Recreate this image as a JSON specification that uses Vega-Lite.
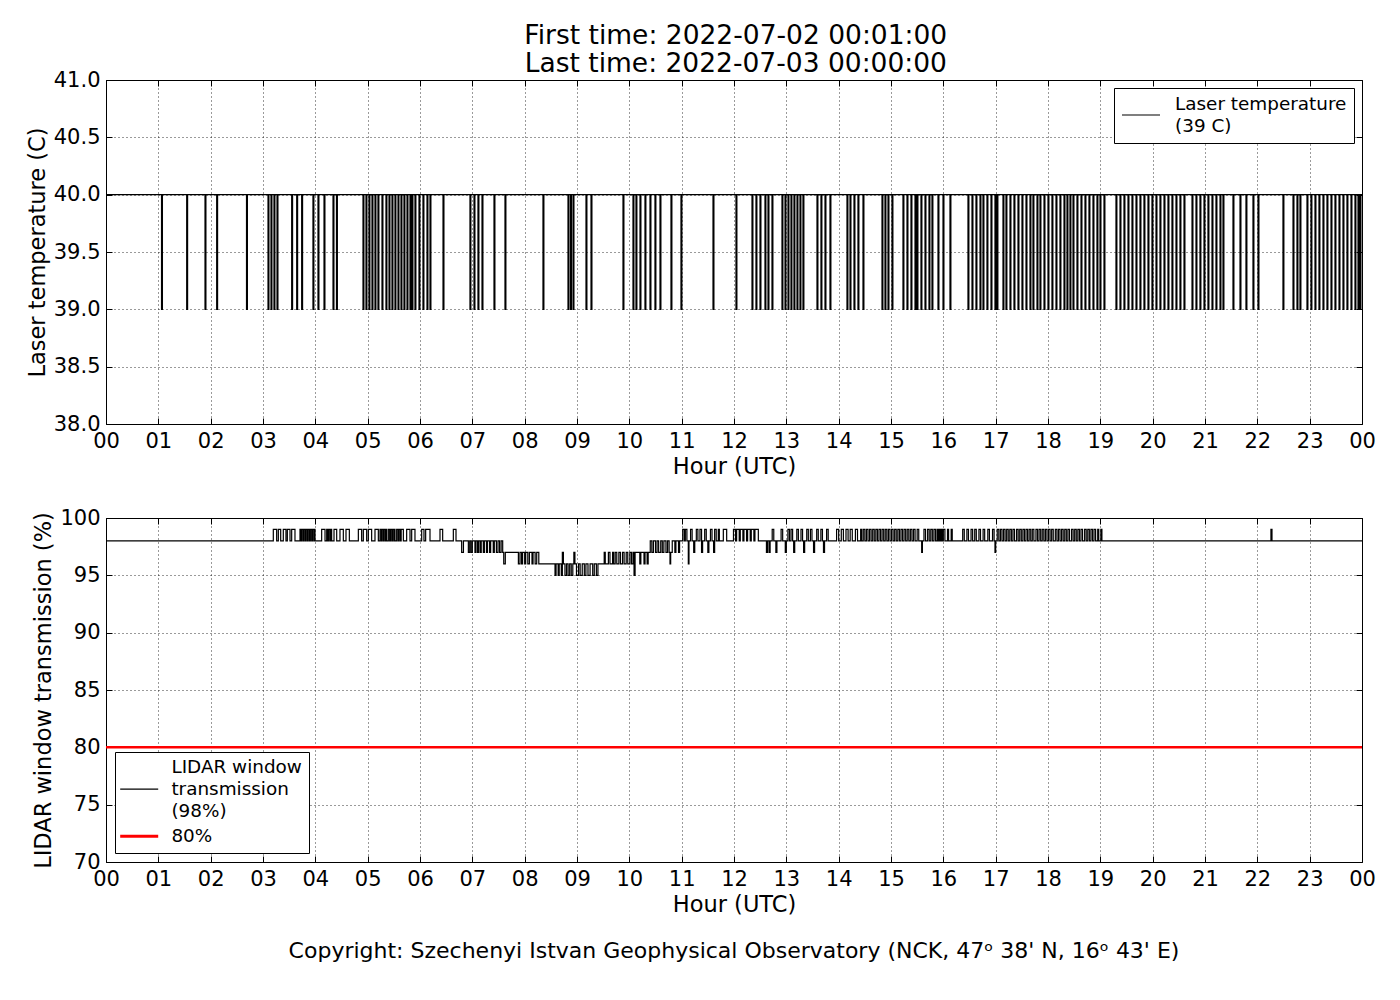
{
  "$schema": "https://vega.github.io/schema/vega-lite/v6.json",
  "padding": {"left": 25, "top": 23, "right": 30, "bottom": 10},
  "title": {
    "text": ["First time: 2022-07-02 00:01:00", "Last time: 2022-07-03 00:00:00"],
    "fontSize": 26.5,
    "lineHeight": 28,
    "fontWeight": "normal",
    "color": "black",
    "anchor": "middle",
    "dx": 35,
    "offset": -9
  },
  "config": {
    "font": "DejaVu Sans",
    "view": {"stroke": "black", "strokeWidth": 1},
    "axis": {
      "domain": false,
      "grid": true,
      "gridColor": "black",
      "gridDash": [1, 3],
      "gridWidth": 0.8,
      "gridOpacity": 1,
      "tickColor": "black",
      "tickSize": -6,
      "labelPadding": 12,
      "labelFontSize": 21,
      "labelColor": "black",
      "titleFontSize": 22.5,
      "titleFontWeight": "normal",
      "titleColor": "black",
      "titlePadding": 4
    },
    "legend": {
      "title": null,
      "symbolType": "stroke",
      "symbolSize": 1444,
      "symbolStrokeWidth": 1.2,
      "labelFontSize": 18.4,
      "labelColor": "black",
      "labelLimit": 400,
      "labelOffset": 14,
      "strokeColor": "black",
      "fillColor": "white",
      "padding": 7,
      "cornerRadius": 0,
      "rowPadding": 0
    }
  },
  "resolve": {"scale": {"color": "independent"}, "legend": {"color": "independent"}},
  "spacing": 28,
  "vconcat": [
    {
      "width": 1256,
      "height": 344,
      "data": {"name": "laser"},
      "resolve": {"axis": {"x": "independent", "y": "independent"}},
      "layer": [
        {
          "mark": {"type": "line", "interpolate": "step-after", "strokeWidth": 1.2, "clip": true},
          "encoding": {
            "x": {
              "field": "h", "type": "quantitative",
              "scale": {"domain": [0, 24], "nice": false},
              "axis": {
                "title": "Hour (UTC)",
                "values": [0,1,2,3,4,5,6,7,8,9,10,11,12,13,14,15,16,17,18,19,20,21,22,23,24],
                "labelFlush": false,
                "labelExpr": "datum.value == 24 ? '00' : (datum.value < 10 ? '0' + datum.value : '' + datum.value)"
              }
            },
            "y": {
              "field": "v", "type": "quantitative",
              "scale": {"domain": [38, 41], "nice": false, "zero": false},
              "axis": {"title": "Laser temperature (C)", "values": [38, 38.5, 39, 39.5, 40, 40.5, 41], "format": ".1f"}
            },
            "color": {
              "datum": "Laser temperature|(39 C)",
              "scale": {"range": ["black"]},
              "legend": {
                "orient": "top-right",
                "offset": 8,
                "labelExpr": "split(datum.label, '|')",
                "encode": {"labels": {"update": {"dy": {"value": -11}, "lineHeight": {"value": 22}}}}
              }
            }
          }
        },
        {
          "mark": {"type": "line", "opacity": 0},
          "encoding": {
            "x": {
              "field": "h", "type": "quantitative",
              "scale": {"domain": [0, 24], "nice": false},
              "axis": {"orient": "top", "labels": false, "title": null, "grid": false,
                       "values": [0,1,2,3,4,5,6,7,8,9,10,11,12,13,14,15,16,17,18,19,20,21,22,23,24]}
            },
            "y": {
              "field": "v", "type": "quantitative",
              "scale": {"domain": [38, 41], "nice": false, "zero": false},
              "axis": {"orient": "right", "labels": false, "title": null, "grid": false,
                       "values": [38, 38.5, 39, 39.5, 40, 40.5, 41]}
            }
          }
        }
      ]
    },
    {
      "width": 1256,
      "height": 344,
      "title": {
        "text": "Copyright: Szechenyi Istvan Geophysical Observatory (NCK, 47ᵒ  38' N, 16ᵒ  43' E)",
        "orient": "bottom",
        "anchor": "middle",
        "fontSize": 22,
        "fontWeight": "normal",
        "color": "black",
        "offset": 25
      },
      "resolve": {"axis": {"x": "independent", "y": "independent"}},
      "layer": [
        {
          "data": {"name": "lidar"},
          "mark": {"type": "line", "interpolate": "step-after", "strokeWidth": 1.2, "clip": true},
          "encoding": {
            "x": {
              "field": "h", "type": "quantitative",
              "scale": {"domain": [0, 24], "nice": false},
              "axis": {
                "title": "Hour (UTC)",
                "values": [0,1,2,3,4,5,6,7,8,9,10,11,12,13,14,15,16,17,18,19,20,21,22,23,24],
                "labelFlush": false,
                "labelExpr": "datum.value == 24 ? '00' : (datum.value < 10 ? '0' + datum.value : '' + datum.value)"
              }
            },
            "y": {
              "field": "v", "type": "quantitative",
              "scale": {"domain": [70, 100], "nice": false, "zero": false},
              "axis": {"title": "LIDAR window transmission (%)", "values": [70, 75, 80, 85, 90, 95, 100]}
            },
            "color": {
              "datum": "LIDAR window|transmission|(98%)",
              "scale": {"domain": ["LIDAR window|transmission|(98%)", "80%"], "range": ["black", "red"]},
              "legend": {
                "orient": "bottom-left",
                "offset": 9,
                "title": " ",
                "titleFontSize": 14,
                "titlePadding": 7,
                "symbolOffset": 8,
                "labelOffset": 23,
                "rowPadding": 6,
                "labelExpr": "split(datum.label, '|')",
                "encode": {
                  "symbols": {"update": {"strokeWidth": {"signal": "datum.value === '80%' ? 3 : 1.2"}}},
                  "labels": {"update": {"dy": {"signal": "datum.value === '80%' ? 0 : -22"}, "lineHeight": {"value": 22}}}
                }
              }
            }
          }
        },
        {
          "data": {"name": "limit"},
          "mark": {"type": "line", "strokeWidth": 2.5, "clip": true},
          "encoding": {
            "x": {"field": "h", "type": "quantitative", "axis": null},
            "y": {"field": "v", "type": "quantitative", "axis": null},
            "color": {"datum": "80%"}
          }
        },
        {
          "data": {"name": "lidar"},
          "mark": {"type": "line", "opacity": 0},
          "encoding": {
            "x": {
              "field": "h", "type": "quantitative",
              "axis": {"orient": "top", "labels": false, "title": null, "grid": false,
                       "values": [0,1,2,3,4,5,6,7,8,9,10,11,12,13,14,15,16,17,18,19,20,21,22,23,24]}
            },
            "y": {
              "field": "v", "type": "quantitative",
              "axis": {"orient": "right", "labels": false, "title": null, "grid": false,
                       "values": [70, 75, 80, 85, 90, 95, 100]}
            }
          }
        }
      ]
    }
  ],
  "datasets": {
    "limit": [{"h": 0, "v": 80}, {"h": 24, "v": 80}],
    "laser": [
      {"h":0,"v":40},
      {"h":1.061,"v":39},{"h":1.078,"v":40},{"h":1.542,"v":39},{"h":1.559,"v":40},{"h":1.892,"v":39},{"h":1.909,"v":40},
      {"h":2.115,"v":39},{"h":2.132,"v":40},{"h":2.685,"v":39},{"h":2.702,"v":40},{"h":3.096,"v":39},{"h":3.113,"v":40},
      {"h":3.153,"v":39},{"h":3.17,"v":40},{"h":3.21,"v":39},{"h":3.227,"v":40},{"h":3.268,"v":39},{"h":3.285,"v":40},
      {"h":3.548,"v":39},{"h":3.565,"v":40},{"h":3.644,"v":39},{"h":3.661,"v":40},{"h":3.739,"v":39},{"h":3.756,"v":40},
      {"h":3.955,"v":39},{"h":3.972,"v":40},{"h":4.051,"v":39},{"h":4.068,"v":40},{"h":4.166,"v":39},{"h":4.183,"v":40},
      {"h":4.338,"v":39},{"h":4.355,"v":40},{"h":4.404,"v":39},{"h":4.421,"v":40},{"h":4.911,"v":39},{"h":4.928,"v":40},
      {"h":4.968,"v":39},{"h":4.985,"v":40},{"h":5.025,"v":39},{"h":5.042,"v":40},{"h":5.083,"v":39},{"h":5.1,"v":40},
      {"h":5.14,"v":39},{"h":5.157,"v":40},{"h":5.197,"v":39},{"h":5.214,"v":40},{"h":5.274,"v":39},{"h":5.291,"v":40},
      {"h":5.35,"v":39},{"h":5.367,"v":40},{"h":5.408,"v":39},{"h":5.425,"v":40},{"h":5.465,"v":39},{"h":5.482,"v":40},
      {"h":5.522,"v":39},{"h":5.539,"v":40},{"h":5.58,"v":39},{"h":5.597,"v":40},{"h":5.637,"v":39},{"h":5.654,"v":40},
      {"h":5.694,"v":39},{"h":5.711,"v":40},{"h":5.752,"v":39},{"h":5.769,"v":40},{"h":5.809,"v":39},{"h":5.826,"v":40},
      {"h":5.847,"v":39},{"h":5.864,"v":40},{"h":5.904,"v":39},{"h":5.921,"v":40},{"h":5.981,"v":39},{"h":5.998,"v":40},
      {"h":6.057,"v":39},{"h":6.074,"v":40},{"h":6.134,"v":39},{"h":6.151,"v":40},{"h":6.191,"v":39},{"h":6.208,"v":40},
      {"h":6.44,"v":39},{"h":6.457,"v":40},{"h":6.955,"v":39},{"h":6.972,"v":40},{"h":7.032,"v":39},{"h":7.049,"v":40},
      {"h":7.108,"v":39},{"h":7.125,"v":40},{"h":7.185,"v":39},{"h":7.202,"v":40},{"h":7.414,"v":39},{"h":7.431,"v":40},
      {"h":7.624,"v":39},{"h":7.641,"v":40},{"h":8.35,"v":39},{"h":8.367,"v":40},{"h":8.828,"v":39},{"h":8.845,"v":40},
      {"h":8.876,"v":39},{"h":8.893,"v":40},{"h":8.924,"v":39},{"h":8.941,"v":40},{"h":9.172,"v":39},{"h":9.189,"v":40},
      {"h":9.268,"v":39},{"h":9.285,"v":40},{"h":9.879,"v":39},{"h":9.896,"v":40},{"h":10.07,"v":39},{"h":10.087,"v":40},
      {"h":10.127,"v":39},{"h":10.144,"v":40},{"h":10.204,"v":39},{"h":10.221,"v":40},{"h":10.299,"v":39},{"h":10.316,"v":40},
      {"h":10.395,"v":39},{"h":10.412,"v":40},{"h":10.49,"v":39},{"h":10.507,"v":40},{"h":10.586,"v":39},{"h":10.603,"v":40},
      {"h":10.796,"v":39},{"h":10.813,"v":40},{"h":10.987,"v":39},{"h":11.004,"v":40},{"h":11.599,"v":39},{"h":11.616,"v":40},
      {"h":12.038,"v":39},{"h":12.055,"v":40},{"h":12.344,"v":39},{"h":12.361,"v":40},{"h":12.42,"v":39},{"h":12.437,"v":40},
      {"h":12.497,"v":39},{"h":12.514,"v":40},{"h":12.592,"v":39},{"h":12.609,"v":40},{"h":12.65,"v":39},{"h":12.667,"v":40},
      {"h":12.726,"v":39},{"h":12.743,"v":40},{"h":12.917,"v":39},{"h":12.934,"v":40},{"h":12.975,"v":39},{"h":12.992,"v":40},
      {"h":13.032,"v":39},{"h":13.049,"v":40},{"h":13.089,"v":39},{"h":13.106,"v":40},{"h":13.146,"v":39},{"h":13.163,"v":40},
      {"h":13.204,"v":39},{"h":13.221,"v":40},{"h":13.261,"v":39},{"h":13.278,"v":40},{"h":13.318,"v":39},{"h":13.335,"v":40},
      {"h":13.586,"v":39},{"h":13.603,"v":40},{"h":13.662,"v":39},{"h":13.679,"v":40},{"h":13.739,"v":39},{"h":13.756,"v":40},
      {"h":13.834,"v":39},{"h":13.851,"v":40},{"h":14.159,"v":39},{"h":14.176,"v":40},{"h":14.217,"v":39},{"h":14.234,"v":40},
      {"h":14.293,"v":39},{"h":14.31,"v":40},{"h":14.369,"v":39},{"h":14.386,"v":40},{"h":14.465,"v":39},{"h":14.482,"v":40},
      {"h":14.828,"v":39},{"h":14.845,"v":40},{"h":14.885,"v":39},{"h":14.902,"v":40},{"h":14.943,"v":39},{"h":14.96,"v":40},
      {"h":15.019,"v":39},{"h":15.036,"v":40},{"h":15.229,"v":39},{"h":15.246,"v":40},{"h":15.306,"v":39},{"h":15.323,"v":40},
      {"h":15.382,"v":39},{"h":15.399,"v":40},{"h":15.459,"v":39},{"h":15.476,"v":40},{"h":15.497,"v":39},{"h":15.514,"v":40},
      {"h":15.573,"v":39},{"h":15.59,"v":40},{"h":15.65,"v":39},{"h":15.667,"v":40},{"h":15.726,"v":39},{"h":15.743,"v":40},
      {"h":15.783,"v":39},{"h":15.8,"v":40},{"h":15.898,"v":39},{"h":15.915,"v":40},{"h":15.994,"v":39},{"h":16.011,"v":40},
      {"h":16.127,"v":39},{"h":16.144,"v":40},{"h":16.471,"v":39},{"h":16.488,"v":40},{"h":16.548,"v":39},{"h":16.565,"v":40},
      {"h":16.624,"v":39},{"h":16.641,"v":40},{"h":16.701,"v":39},{"h":16.718,"v":40},{"h":16.758,"v":39},{"h":16.775,"v":40},
      {"h":16.834,"v":39},{"h":16.851,"v":40},{"h":16.911,"v":39},{"h":16.928,"v":40},{"h":16.987,"v":39},{"h":17.004,"v":40},
      {"h":17.025,"v":39},{"h":17.042,"v":40},{"h":17.14,"v":39},{"h":17.157,"v":40},{"h":17.197,"v":39},{"h":17.214,"v":40},
      {"h":17.274,"v":39},{"h":17.291,"v":40},{"h":17.35,"v":39},{"h":17.367,"v":40},{"h":17.427,"v":39},{"h":17.444,"v":40},
      {"h":17.503,"v":39},{"h":17.52,"v":40},{"h":17.58,"v":39},{"h":17.597,"v":40},{"h":17.656,"v":39},{"h":17.673,"v":40},
      {"h":17.713,"v":39},{"h":17.73,"v":40},{"h":17.79,"v":39},{"h":17.807,"v":40},{"h":17.847,"v":39},{"h":17.864,"v":40},
      {"h":17.924,"v":39},{"h":17.941,"v":40},{"h":18.0,"v":39},{"h":18.017,"v":40},{"h":18.076,"v":39},{"h":18.093,"v":40},
      {"h":18.153,"v":39},{"h":18.17,"v":40},{"h":18.229,"v":39},{"h":18.246,"v":40},{"h":18.306,"v":39},{"h":18.323,"v":40},
      {"h":18.363,"v":39},{"h":18.38,"v":40},{"h":18.42,"v":39},{"h":18.437,"v":40},{"h":18.478,"v":39},{"h":18.495,"v":40},
      {"h":18.554,"v":39},{"h":18.571,"v":40},{"h":18.631,"v":39},{"h":18.648,"v":40},{"h":18.707,"v":39},{"h":18.724,"v":40},
      {"h":18.783,"v":39},{"h":18.8,"v":40},{"h":18.86,"v":39},{"h":18.877,"v":40},{"h":18.936,"v":39},{"h":18.953,"v":40},
      {"h":18.994,"v":39},{"h":19.011,"v":40},{"h":19.07,"v":39},{"h":19.087,"v":40},{"h":19.299,"v":39},{"h":19.316,"v":40},
      {"h":19.376,"v":39},{"h":19.393,"v":40},{"h":19.452,"v":39},{"h":19.469,"v":40},{"h":19.529,"v":39},{"h":19.546,"v":40},
      {"h":19.605,"v":39},{"h":19.622,"v":40},{"h":19.682,"v":39},{"h":19.699,"v":40},{"h":19.758,"v":39},{"h":19.775,"v":40},
      {"h":19.834,"v":39},{"h":19.851,"v":40},{"h":19.911,"v":39},{"h":19.928,"v":40},{"h":19.987,"v":39},{"h":20.004,"v":40},
      {"h":20.064,"v":39},{"h":20.081,"v":40},{"h":20.14,"v":39},{"h":20.157,"v":40},{"h":20.217,"v":39},{"h":20.234,"v":40},
      {"h":20.293,"v":39},{"h":20.31,"v":40},{"h":20.369,"v":39},{"h":20.386,"v":40},{"h":20.446,"v":39},{"h":20.463,"v":40},
      {"h":20.522,"v":39},{"h":20.539,"v":40},{"h":20.599,"v":39},{"h":20.616,"v":40},{"h":20.752,"v":39},{"h":20.769,"v":40},
      {"h":20.828,"v":39},{"h":20.845,"v":40},{"h":20.904,"v":39},{"h":20.921,"v":40},{"h":20.981,"v":39},{"h":20.998,"v":40},
      {"h":21.057,"v":39},{"h":21.074,"v":40},{"h":21.134,"v":39},{"h":21.151,"v":40},{"h":21.21,"v":39},{"h":21.227,"v":40},
      {"h":21.287,"v":39},{"h":21.304,"v":40},{"h":21.344,"v":39},{"h":21.361,"v":40},{"h":21.535,"v":39},{"h":21.552,"v":40},
      {"h":21.669,"v":39},{"h":21.686,"v":40},{"h":21.783,"v":39},{"h":21.8,"v":40},{"h":21.917,"v":39},{"h":21.934,"v":40},
      {"h":22.013,"v":39},{"h":22.03,"v":40},{"h":22.49,"v":39},{"h":22.507,"v":40},{"h":22.682,"v":39},{"h":22.699,"v":40},
      {"h":22.758,"v":39},{"h":22.775,"v":40},{"h":22.815,"v":39},{"h":22.832,"v":40},{"h":22.949,"v":39},{"h":22.966,"v":40},
      {"h":23.025,"v":39},{"h":23.042,"v":40},{"h":23.102,"v":39},{"h":23.119,"v":40},{"h":23.178,"v":39},{"h":23.195,"v":40},
      {"h":23.255,"v":39},{"h":23.272,"v":40},{"h":23.331,"v":39},{"h":23.348,"v":40},{"h":23.408,"v":39},{"h":23.425,"v":40},
      {"h":23.484,"v":39},{"h":23.501,"v":40},{"h":23.561,"v":39},{"h":23.578,"v":40},{"h":23.637,"v":39},{"h":23.654,"v":40},
      {"h":23.713,"v":39},{"h":23.73,"v":40},{"h":23.79,"v":39},{"h":23.807,"v":40},{"h":23.866,"v":39},{"h":23.883,"v":40},
      {"h":23.924,"v":39},{"h":23.941,"v":40},{"h":23.962,"v":39},{"h":23.979,"v":40},
      {"h":24,"v":40}
    ],
    "lidar": [
      {"h":0,"v":98},
      {"h":3.197,"v":99},{"h":3.261,"v":98},{"h":3.293,"v":99},{"h":3.338,"v":98},{"h":3.388,"v":99},{"h":3.439,"v":98},
      {"h":3.465,"v":99},{"h":3.516,"v":98},{"h":3.548,"v":99},{"h":3.611,"v":98},{"h":3.707,"v":99},{"h":3.73,"v":98},
      {"h":3.745,"v":99},{"h":3.77,"v":98},{"h":3.785,"v":99},{"h":3.81,"v":98},{"h":3.825,"v":99},{"h":3.85,"v":98},
      {"h":3.865,"v":99},{"h":3.89,"v":98},{"h":3.905,"v":99},{"h":3.93,"v":98},{"h":3.945,"v":99},{"h":3.97,"v":98},
      {"h":3.98,"v":99},{"h":3.994,"v":98},{"h":4.121,"v":99},{"h":4.185,"v":98},{"h":4.217,"v":99},{"h":4.24,"v":98},
      {"h":4.255,"v":99},{"h":4.28,"v":98},{"h":4.295,"v":99},{"h":4.312,"v":98},{"h":4.357,"v":99},{"h":4.408,"v":98},
      {"h":4.471,"v":99},{"h":4.535,"v":98},{"h":4.586,"v":99},{"h":4.65,"v":98},{"h":4.822,"v":99},{"h":4.885,"v":98},
      {"h":4.917,"v":99},{"h":4.981,"v":98},{"h":5.013,"v":99},{"h":5.076,"v":98},{"h":5.14,"v":99},{"h":5.204,"v":98},
      {"h":5.236,"v":99},{"h":5.26,"v":98},{"h":5.275,"v":99},{"h":5.3,"v":98},{"h":5.315,"v":99},{"h":5.34,"v":98},
      {"h":5.35,"v":99},{"h":5.363,"v":98},{"h":5.395,"v":99},{"h":5.42,"v":98},{"h":5.435,"v":99},{"h":5.46,"v":98},
      {"h":5.475,"v":99},{"h":5.5,"v":98},{"h":5.51,"v":99},{"h":5.522,"v":98},{"h":5.554,"v":99},{"h":5.58,"v":98},
      {"h":5.595,"v":99},{"h":5.62,"v":98},{"h":5.64,"v":99},{"h":5.682,"v":98},{"h":5.745,"v":99},{"h":5.809,"v":98},
      {"h":5.841,"v":99},{"h":5.904,"v":98},{"h":6.032,"v":99},{"h":6.076,"v":98},{"h":6.108,"v":99},{"h":6.191,"v":98},
      {"h":6.382,"v":99},{"h":6.433,"v":98},{"h":6.637,"v":99},{"h":6.688,"v":98},
      {"h":6.796,"v":97},{"h":6.83,"v":98},{"h":6.924,"v":97},{"h":6.95,"v":98},{"h":6.975,"v":97},{"h":7.0,"v":98},
      {"h":7.05,"v":97},{"h":7.07,"v":98},{"h":7.1,"v":97},{"h":7.12,"v":98},{"h":7.15,"v":97},{"h":7.17,"v":98},
      {"h":7.21,"v":97},{"h":7.23,"v":98},{"h":7.27,"v":97},{"h":7.29,"v":98},{"h":7.33,"v":97},{"h":7.35,"v":98},
      {"h":7.4,"v":97},{"h":7.42,"v":98},{"h":7.46,"v":97},{"h":7.49,"v":98},{"h":7.52,"v":97},{"h":7.55,"v":98},
      {"h":7.58,"v":97},{"h":7.6,"v":96},{"h":7.63,"v":97},
      {"h":7.88,"v":96},{"h":7.91,"v":97},{"h":7.94,"v":96},{"h":7.96,"v":97},{"h":8.0,"v":96},{"h":8.02,"v":97},
      {"h":8.06,"v":96},{"h":8.09,"v":97},{"h":8.14,"v":96},{"h":8.16,"v":97},{"h":8.2,"v":96},{"h":8.23,"v":97},
      {"h":8.27,"v":96},
      {"h":8.58,"v":95},{"h":8.6,"v":96},{"h":8.64,"v":95},{"h":8.66,"v":96},{"h":8.7,"v":95},{"h":8.72,"v":97},
      {"h":8.74,"v":96},{"h":8.77,"v":95},{"h":8.8,"v":96},{"h":8.83,"v":95},{"h":8.86,"v":96},{"h":8.89,"v":95},
      {"h":8.92,"v":96},{"h":8.94,"v":97},{"h":8.96,"v":96},{"h":8.99,"v":95},{"h":9.03,"v":96},{"h":9.06,"v":95},
      {"h":9.1,"v":96},{"h":9.14,"v":95},{"h":9.17,"v":96},{"h":9.21,"v":95},{"h":9.25,"v":96},{"h":9.3,"v":95},
      {"h":9.33,"v":96},{"h":9.37,"v":95},{"h":9.4,"v":96},
      {"h":9.52,"v":97},{"h":9.54,"v":96},{"h":9.6,"v":97},{"h":9.63,"v":96},{"h":9.68,"v":97},{"h":9.7,"v":96},
      {"h":9.73,"v":97},{"h":9.76,"v":96},{"h":9.8,"v":97},{"h":9.83,"v":96},{"h":9.87,"v":97},{"h":9.9,"v":96},
      {"h":9.94,"v":97},{"h":9.97,"v":96},{"h":10.01,"v":97},{"h":10.04,"v":96},{"h":10.07,"v":97},{"h":10.09,"v":95},
      {"h":10.11,"v":97},{"h":10.2,"v":96},{"h":10.22,"v":97},{"h":10.28,"v":96},{"h":10.3,"v":97},{"h":10.34,"v":96},
      {"h":10.36,"v":97},
      {"h":10.4,"v":98},{"h":10.43,"v":97},{"h":10.46,"v":98},{"h":10.5,"v":97},{"h":10.53,"v":98},{"h":10.56,"v":97},
      {"h":10.6,"v":98},{"h":10.63,"v":97},{"h":10.66,"v":98},{"h":10.7,"v":97},{"h":10.73,"v":98},{"h":10.76,"v":97},
      {"h":10.777,"v":96},{"h":10.79,"v":97},{"h":10.82,"v":98},{"h":10.87,"v":97},{"h":10.89,"v":98},{"h":10.94,"v":97},
      {"h":10.96,"v":98},
      {"h":11.02,"v":99},{"h":11.05,"v":98},{"h":11.07,"v":99},{"h":11.1,"v":98},{"h":11.127,"v":96},{"h":11.14,"v":98},
      {"h":11.17,"v":99},{"h":11.2,"v":98},{"h":11.23,"v":97},{"h":11.25,"v":98},{"h":11.28,"v":99},{"h":11.31,"v":98},
      {"h":11.35,"v":99},{"h":11.38,"v":97},{"h":11.4,"v":98},{"h":11.44,"v":99},{"h":11.47,"v":98},{"h":11.5,"v":97},
      {"h":11.52,"v":98},{"h":11.55,"v":99},{"h":11.58,"v":98},{"h":11.61,"v":97},{"h":11.63,"v":99},{"h":11.66,"v":98},
      {"h":11.7,"v":99},{"h":11.72,"v":98},{"h":11.796,"v":99},{"h":11.86,"v":98},
      {"h":11.99,"v":99},{"h":12.03,"v":98},{"h":12.05,"v":99},{"h":12.1,"v":98},{"h":12.12,"v":99},{"h":12.17,"v":98},
      {"h":12.19,"v":99},{"h":12.24,"v":98},{"h":12.26,"v":99},{"h":12.31,"v":98},{"h":12.33,"v":99},{"h":12.38,"v":98},
      {"h":12.4,"v":99},{"h":12.465,"v":98},
      {"h":12.62,"v":97},{"h":12.64,"v":98},{"h":12.67,"v":97},{"h":12.69,"v":98},{"h":12.73,"v":99},{"h":12.76,"v":98},
      {"h":12.8,"v":97},{"h":12.82,"v":98},{"h":12.9,"v":99},{"h":12.93,"v":98},{"h":12.98,"v":97},{"h":13.0,"v":98},
      {"h":13.03,"v":99},{"h":13.06,"v":98},{"h":13.09,"v":99},{"h":13.12,"v":98},{"h":13.14,"v":97},{"h":13.16,"v":98},
      {"h":13.2,"v":99},{"h":13.23,"v":98},{"h":13.28,"v":99},{"h":13.31,"v":98},{"h":13.33,"v":97},{"h":13.35,"v":98},
      {"h":13.39,"v":99},{"h":13.42,"v":98},{"h":13.46,"v":99},{"h":13.49,"v":98},{"h":13.52,"v":97},{"h":13.54,"v":98},
      {"h":13.58,"v":99},{"h":13.61,"v":98},{"h":13.66,"v":99},{"h":13.69,"v":98},{"h":13.71,"v":97},{"h":13.73,"v":98},
      {"h":13.77,"v":99},{"h":13.8,"v":98},
      {"h":13.96,"v":99},{"h":14.0,"v":98},{"h":14.05,"v":99},{"h":14.09,"v":98},{"h":14.14,"v":99},{"h":14.18,"v":98},
      {"h":14.22,"v":99},{"h":14.26,"v":98},{"h":14.32,"v":99},{"h":14.36,"v":98},{"h":14.42,"v":99},{"h":14.44,"v":98},
      {"h":14.47,"v":99},{"h":14.5,"v":98},{"h":14.53,"v":99},{"h":14.56,"v":98},{"h":14.59,"v":99},{"h":14.62,"v":98},
      {"h":14.65,"v":99},{"h":14.68,"v":98},{"h":14.71,"v":99},{"h":14.74,"v":98},{"h":14.77,"v":99},{"h":14.8,"v":98},
      {"h":14.83,"v":99},{"h":14.86,"v":98},{"h":14.89,"v":99},{"h":14.92,"v":98},{"h":14.95,"v":99},{"h":14.98,"v":98},
      {"h":15.01,"v":99},{"h":15.04,"v":98},{"h":15.07,"v":99},{"h":15.1,"v":98},{"h":15.13,"v":99},{"h":15.16,"v":98},
      {"h":15.19,"v":99},{"h":15.22,"v":98},{"h":15.25,"v":99},{"h":15.28,"v":98},{"h":15.31,"v":99},{"h":15.34,"v":98},
      {"h":15.37,"v":99},{"h":15.4,"v":98},{"h":15.43,"v":99},{"h":15.46,"v":98},{"h":15.5,"v":99},{"h":15.53,"v":98},
      {"h":15.586,"v":97},{"h":15.6,"v":98},{"h":15.63,"v":99},{"h":15.66,"v":98},{"h":15.7,"v":99},{"h":15.73,"v":98},
      {"h":15.76,"v":99},{"h":15.79,"v":98},{"h":15.82,"v":99},{"h":15.85,"v":98},{"h":15.88,"v":99},{"h":15.9,"v":98},
      {"h":15.92,"v":99},{"h":15.94,"v":98},{"h":15.96,"v":99},{"h":15.98,"v":98},{"h":16.0,"v":99},{"h":16.03,"v":98},
      {"h":16.08,"v":99},{"h":16.1,"v":98},{"h":16.15,"v":99},{"h":16.17,"v":98},
      {"h":16.37,"v":99},{"h":16.4,"v":98},{"h":16.45,"v":99},{"h":16.48,"v":98},{"h":16.53,"v":99},{"h":16.56,"v":98},
      {"h":16.6,"v":99},{"h":16.63,"v":98},{"h":16.68,"v":99},{"h":16.71,"v":98},{"h":16.76,"v":99},{"h":16.79,"v":98},
      {"h":16.85,"v":99},{"h":16.88,"v":98},{"h":16.94,"v":99},{"h":16.97,"v":98},{"h":16.987,"v":97},{"h":17.0,"v":98},
      {"h":17.03,"v":99},{"h":17.06,"v":98},{"h":17.09,"v":99},{"h":17.12,"v":98},{"h":17.15,"v":99},{"h":17.18,"v":98},
      {"h":17.21,"v":99},{"h":17.24,"v":98},{"h":17.27,"v":99},{"h":17.3,"v":98},{"h":17.33,"v":99},{"h":17.36,"v":98},
      {"h":17.4,"v":99},{"h":17.43,"v":98},{"h":17.46,"v":99},{"h":17.49,"v":98},{"h":17.52,"v":99},{"h":17.55,"v":98},
      {"h":17.58,"v":99},{"h":17.61,"v":98},{"h":17.64,"v":99},{"h":17.67,"v":98},{"h":17.7,"v":99},{"h":17.73,"v":98},
      {"h":17.77,"v":99},{"h":17.8,"v":98},{"h":17.83,"v":99},{"h":17.86,"v":98},{"h":17.89,"v":99},{"h":17.92,"v":98},
      {"h":17.95,"v":99},{"h":17.98,"v":98},{"h":18.01,"v":99},{"h":18.04,"v":98},{"h":18.07,"v":99},{"h":18.1,"v":98},
      {"h":18.14,"v":99},{"h":18.17,"v":98},{"h":18.2,"v":99},{"h":18.23,"v":98},{"h":18.26,"v":99},{"h":18.29,"v":98},
      {"h":18.32,"v":99},{"h":18.35,"v":98},{"h":18.38,"v":99},{"h":18.41,"v":98},{"h":18.45,"v":99},{"h":18.48,"v":98},
      {"h":18.51,"v":99},{"h":18.54,"v":98},{"h":18.57,"v":99},{"h":18.6,"v":98},{"h":18.63,"v":99},{"h":18.66,"v":98},
      {"h":18.7,"v":99},{"h":18.73,"v":98},{"h":18.76,"v":99},{"h":18.79,"v":98},{"h":18.82,"v":99},{"h":18.85,"v":98},
      {"h":18.88,"v":99},{"h":18.91,"v":98},{"h":18.95,"v":99},{"h":18.97,"v":98},{"h":19.01,"v":99},{"h":19.03,"v":98},
      {"h":22.26,"v":99},{"h":22.28,"v":98},
      {"h":24,"v":98}
    ]
  }
}
